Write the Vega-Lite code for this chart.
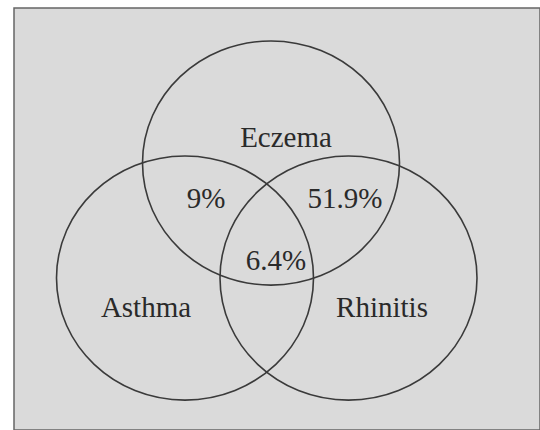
{
  "$schema": "https://vega.github.io/schema/vega-lite/v6.json",
  "width": 540,
  "height": 430,
  "autosize": {"type": "fit", "contains": "padding"},
  "padding": {"left": 14, "top": 8, "right": 0, "bottom": 0},
  "background": "#ffffff",
  "config": {"view": {"fill": "#dadada", "stroke": "#666666", "strokeWidth": 1.5}},
  "datasets": {
    "circles": [
      {"set": "Eczema", "cx": 271, "cy": 163},
      {"set": "Asthma", "cx": 185, "cy": 278},
      {"set": "Rhinitis", "cx": 348.5, "cy": 278}
    ],
    "labels": [
      {"label": "Eczema", "x": 286, "y": 138},
      {"label": "9%", "x": 206, "y": 199},
      {"label": "51.9%", "x": 345, "y": 199},
      {"label": "6.4%", "x": 276, "y": 261},
      {"label": "Asthma", "x": 146, "y": 308},
      {"label": "Rhinitis", "x": 382, "y": 308}
    ]
  },
  "layer": [
    {
      "data": {"name": "circles"},
      "mark": {
        "type": "point",
        "filled": false,
        "shape": "M-1,0C-1,-0.525,-0.552,-0.95,0,-0.95C0.552,-0.95,1,-0.525,1,0C1,0.525,0.552,0.95,0,0.95C-0.552,0.95,-1,0.525,-1,0Z",
        "size": 66049,
        "stroke": "#3a3a3a",
        "strokeWidth": 1.6,
        "opacity": 1
      },
      "encoding": {
        "x": {"field": "cx", "type": "quantitative", "scale": {"domain": [14, 540], "nice": false, "zero": false}, "axis": null},
        "y": {"field": "cy", "type": "quantitative", "scale": {"domain": [8, 430], "nice": false, "zero": false, "reverse": true}, "axis": null}
      }
    },
    {
      "data": {"name": "labels"},
      "mark": {
        "type": "text",
        "font": "Liberation Serif",
        "fontSize": 29,
        "color": "#2a2a2a",
        "align": "center",
        "baseline": "middle"
      },
      "encoding": {
        "x": {"field": "x", "type": "quantitative"},
        "y": {"field": "y", "type": "quantitative"},
        "text": {"field": "label", "type": "nominal"}
      }
    }
  ]
}
